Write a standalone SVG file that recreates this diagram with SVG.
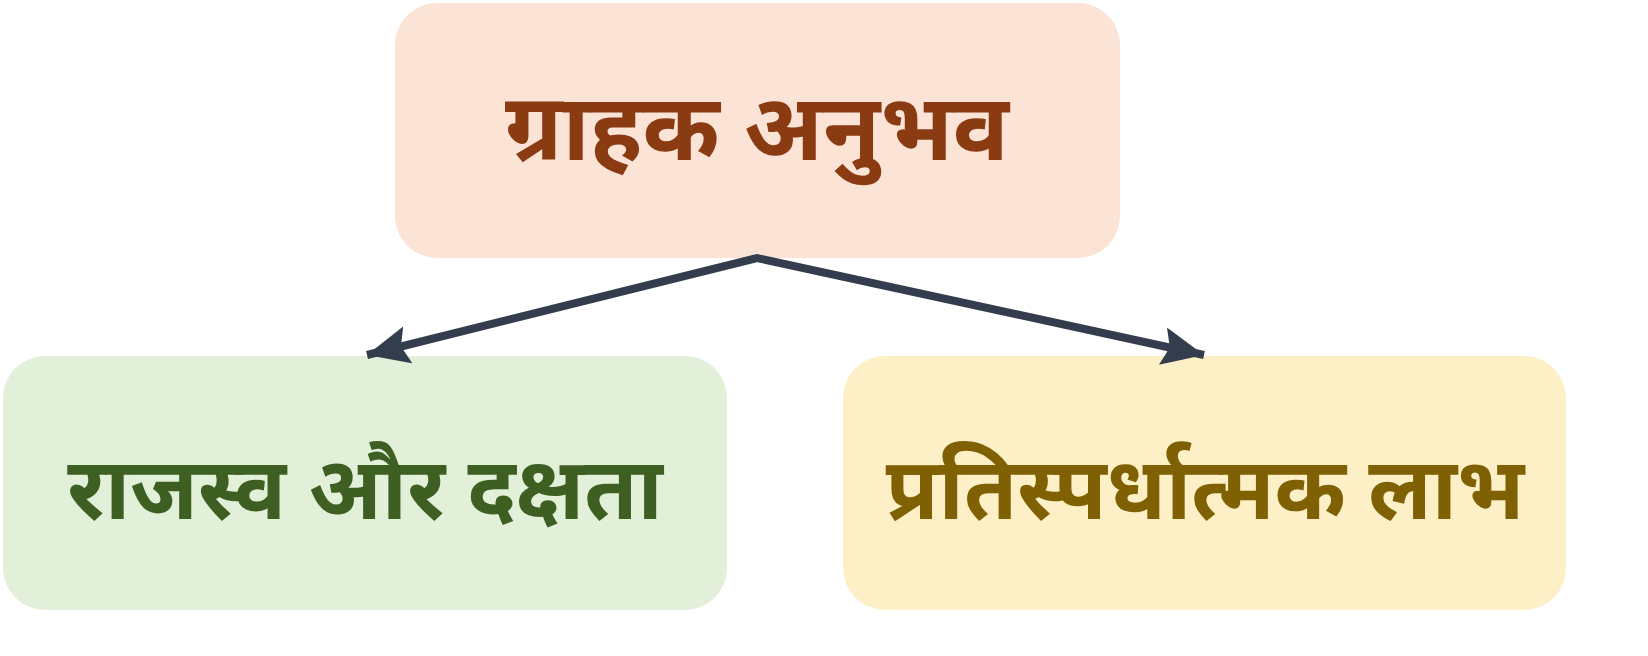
<svg xmlns="http://www.w3.org/2000/svg" width="1648" height="656" viewBox="0 0 1648 656">
<defs>
<style>
.lbl{font-family:"Noto Sans","Noto Sans Devanagari","Lohit Devanagari",sans-serif;font-weight:bold;text-anchor:middle;dominant-baseline:alphabetic}
.conn{stroke:#333d4d;stroke-width:8;fill:none;stroke-linejoin:miter;stroke-miterlimit:10}
</style>
<marker id="ah" markerUnits="userSpaceOnUse" markerWidth="46" markerHeight="42" refX="42" refY="19" orient="auto-start-reverse" viewBox="0 0 46 42">
<path d="M0,0 L42,19 L0,38 L7,19 z" fill="#333d4d"/>
</marker>
</defs>
<rect width="1648" height="656" fill="#ffffff"/>
<g id="node-customer">
<rect x="395" y="3" width="725" height="255" rx="42" fill="#fbe3d5"/>
<text class="lbl" x="757" y="160" font-size="93" fill="#8a3b12">ग्राहक अनुभव</text>
</g>
<g id="node-revenue">
<rect x="3" y="356" width="724" height="254" rx="42" fill="#e2efd9"/>
<text class="lbl" x="365" y="519" font-size="86" fill="#3e5f22">राजस्व और दक्षता</text>
</g>
<g id="node-advantage">
<rect x="843" y="356" width="723" height="254" rx="42" fill="#fdefc6"/>
<text class="lbl" x="1205" y="519" font-size="86" fill="#7f6003">प्रतिस्पर्धात्मक लाभ</text>
</g>
<g id="connectors">
<path class="conn" d="M367,355 L757,258 L1204,355" marker-start="url(#ah)" marker-end="url(#ah)"/>
</g>
</svg>
